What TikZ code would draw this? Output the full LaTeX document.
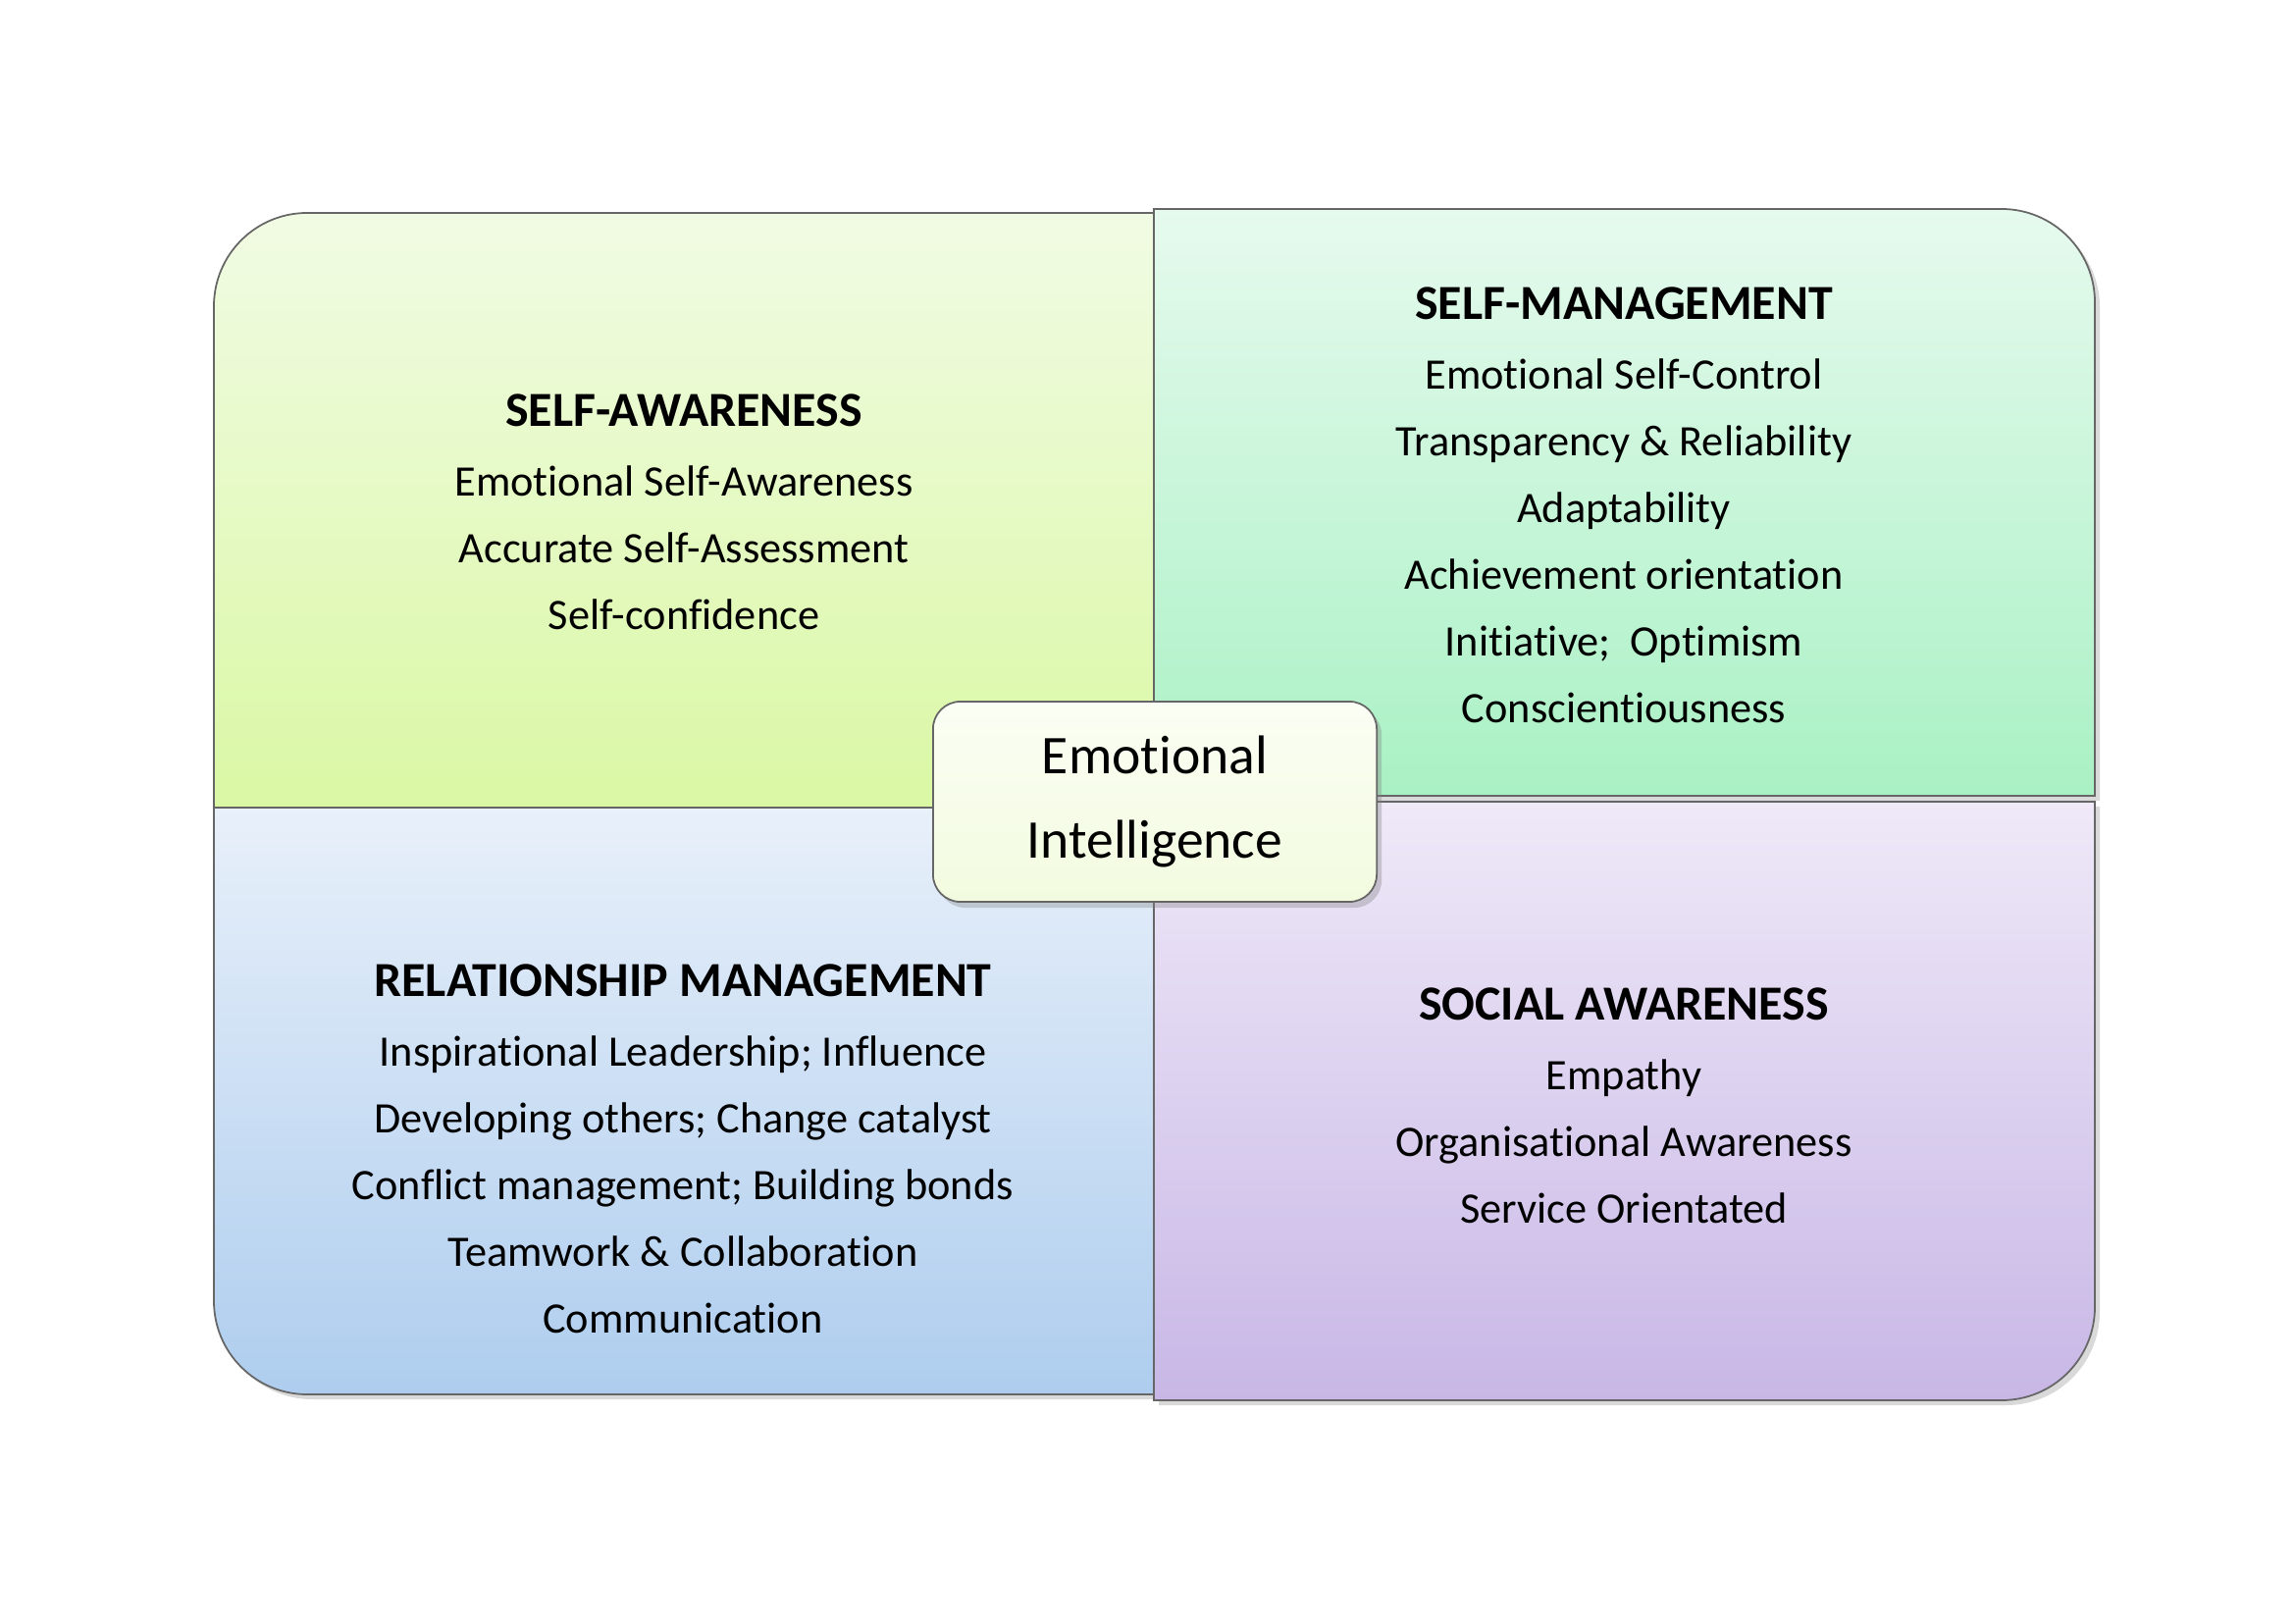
\documentclass[tikz,border=0pt]{standalone}
\usepackage{fontspec}
\setmainfont{Carlito}[Ligatures=NoCommon]
\usepackage{xcolor}
\usepackage{tikz}
\usetikzlibrary{shadows}

\definecolor{saTop}{HTML}{F1FBE4}
\definecolor{saBot}{HTML}{DAF8A4}
\definecolor{smTop}{HTML}{E6FAEE}
\definecolor{smBot}{HTML}{A9F1C4}
\definecolor{rmTop}{HTML}{E8F0FA}
\definecolor{rmBot}{HTML}{AECDEE}
\definecolor{soTop}{HTML}{EFE9F8}
\definecolor{soBot}{HTML}{C8B7E6}
\definecolor{eiTop}{HTML}{FBFEF4}
\definecolor{eiBot}{HTML}{F2FBDF}

\begin{document}
\begin{tikzpicture}[
  x=0.01cm, y=0.01cm,
  quad/.style={draw=black!60, line width=0.5pt,
    drop shadow={opacity=0.3, shadow xshift=0.5mm, shadow yshift=-0.5mm}},
  selfaw/.style={quad, top color=saTop, bottom color=saBot},
  selfman/.style={quad, top color=smTop, bottom color=smBot},
  relman/.style={quad, top color=rmTop, bottom color=rmBot},
  socaw/.style={quad, top color=soTop, bottom color=soBot},
  items/.style={align=center, anchor=north, inner sep=0pt, font=\fontsize{12.6}{19.3}\selectfont},
  core/.style={draw=black!60, line width=0.5pt, rounded corners=2.8mm, align=center,
    minimum width=4.52cm, minimum height=2.04cm, inner sep=0pt,
    top color=eiTop, bottom color=eiBot, font=\fontsize{15.8}{24.2}\selectfont,
    drop shadow={opacity=0.35, shadow xshift=0.5mm, shadow yshift=-0.6mm}}
]
\useasboundingbox (0,0) rectangle (2339,1654);

% four quadrants, one rounded corner each
\path[selfaw] (218,831) -- (218,1342) arc[start angle=180, end angle=90, radius=95] -- (1176,1437) -- (1176,831) -- cycle;
\path[selfman] (1176,843) -- (1176,1441) -- (2040,1441) arc[start angle=90, end angle=0, radius=95] -- (2135,843) -- cycle;
\path[relman] (218,831) -- (218,328) arc[start angle=180, end angle=270, radius=95] -- (1176,233) -- (1176,831) -- cycle;
\path[socaw] (1176,837) -- (2135,837) -- (2135,322) arc[start angle=0, end angle=-90, radius=95] -- (1176,227) -- cycle;

\node[items] (sa) at (697,1253) {{\fontsize{14.2}{19.3}\selectfont\bfseries SELF-AWARENESS}\\[1pt]
  Emotional Self-Awareness\\ Accurate Self-Assessment\\ Self-confidence};
\node[items] (sm) at (1655,1362) {{\fontsize{14.2}{19.3}\selectfont\bfseries SELF-MANAGEMENT}\\[1pt]
  Emotional Self-Control\\ Transparency \& Reliability\\ Adaptability\\
  Achievement orientation\\ Initiative;\ \ Optimism\\ Conscientiousness};
\node[items] (rm) at (696,672) {{\fontsize{14.2}{19.3}\selectfont\bfseries RELATIONSHIP MANAGEMENT}\\[1pt]
  Inspirational Leadership; Influence\\ Developing others; Change catalyst\\
  Conflict management; Building bonds\\ Teamwork \& Collaboration\\ Communication};
\node[items] (so) at (1655,648) {{\fontsize{14.2}{19.3}\selectfont\bfseries SOCIAL AWARENESS}\\[1pt]
  Empathy\\ Organisational Awareness\\ Service Orientated};

\node[core] (ei) at (1177,837) {Emotional\\Intelligence};
\end{tikzpicture}
\end{document}
